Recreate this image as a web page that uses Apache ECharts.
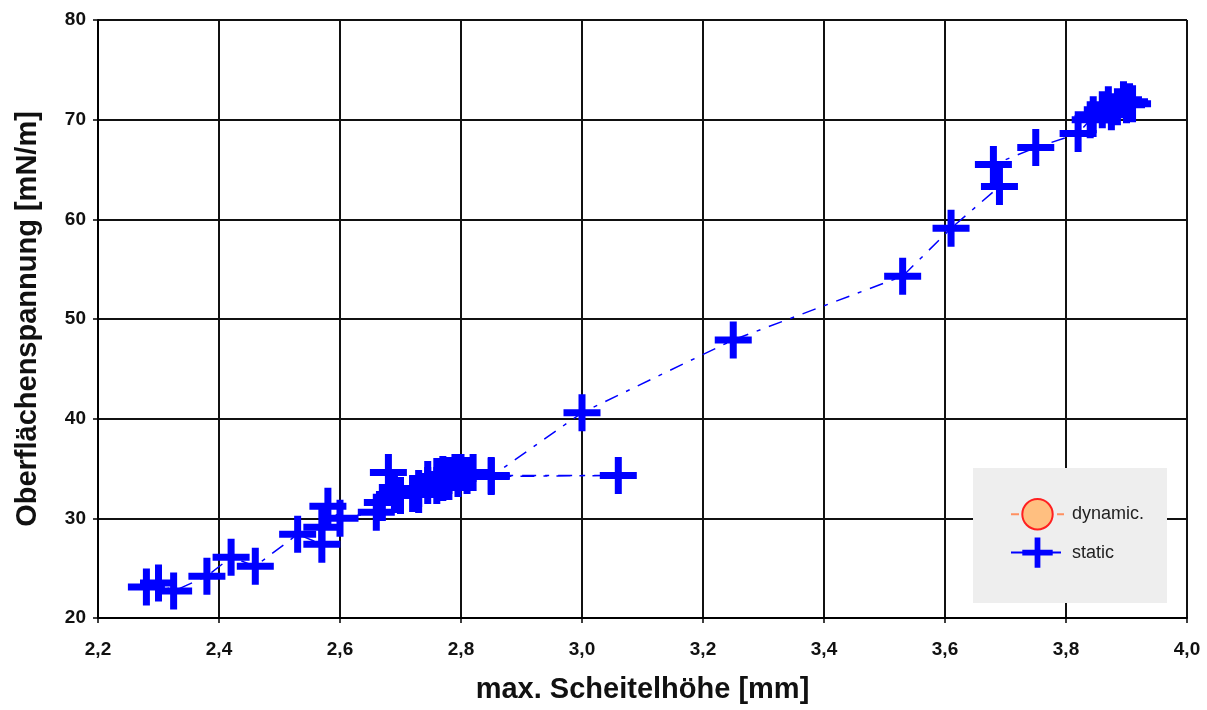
<!DOCTYPE html>
<html>
<head>
<meta charset="utf-8">
<script src="https://cdn.jsdelivr.net/npm/echarts@6/dist/echarts.min.js"></script>
<style>html,body{margin:0;padding:0;background:#fff}#c{width:1207px;height:710px}</style>
</head>
<body>
<div id="c"></div>
<script>
// Data (x = max. Scheitelhöhe [mm], y = Oberflächenspannung [mN/m]) in drawing order
const staticX = [2.28, 2.30, 2.325, 2.38, 2.42, 2.46, 2.53, 2.57, 2.57, 2.58, 2.60, 2.66, 2.67, 2.68, 2.69, 2.70,
  2.72, 2.73, 2.73, 2.745, 2.745, 2.76, 2.76, 2.77, 2.77, 2.78, 2.78, 2.79, 2.795, 2.80, 2.81, 2.82,
  2.85, 3.06, 2.85, 3.00, 3.25, 3.53, 3.61, 3.69, 3.68, 3.75, 3.82, 3.84, 3.845, 3.86, 3.87, 3.875, 3.885, 3.895, 3.90, 3.905, 3.91];
const staticY = [23.1, 23.5, 22.7, 24.2, 26.1, 25.2, 28.4, 27.4, 29.1, 31.2, 30.0, 30.6, 31.6, 34.6, 32.4, 32.3,
  32.5, 32.4, 33.0, 33.3, 33.9, 33.3, 34.2, 33.6, 34.4, 33.7, 34.3, 34.6, 34.0, 34.6, 34.3, 34.6,
  34.3, 34.3, 34.2, 40.6, 47.9, 54.3, 59.1, 63.3, 65.5, 67.2, 68.6, 70.0, 70.5, 71.0, 71.5, 70.8, 71.3, 72.0, 71.5, 71.8, 71.6];
const dynamicX = [];
const dynamicY = [];
const seriesNames = ['dynamic.', 'static'];
const xTicks = {min: 2.2, max: 4.0, interval: 0.2};
const yTicks = {min: 20, max: 80, interval: 10};

const crossPath = 'path://M15,0H22V15H37V22H22V37H15V22H0V15H15Z';
const pairs = (xs, ys) => xs.map((x, i) => [x, ys[i]]);
const fmt = v => v.toFixed(1).replace('.', ',');

const chart = echarts.init(document.getElementById('c'), null, {renderer: 'canvas'});
chart.setOption({
  animation: false,
  backgroundColor: '#ffffff',
  grid: {left: 98, right: 20, top: 20, bottom: 92, containLabel: false},
  graphic: [{
    type: 'rect', z: 3, left: 973, top: 468,
    shape: {width: 194, height: 135},
    style: {fill: '#eeeeee'}
  }],
  legend: {
    orient: 'vertical', left: 1005, top: 493,
    itemWidth: 53, itemHeight: 38, itemGap: 7,
    data: seriesNames,
    textStyle: {fontFamily: 'Arial, Liberation Sans', fontSize: 18, color: '#222', padding: [0, 0, 0, 3]}
  },
  xAxis: {
    type: 'value', min: xTicks.min, max: xTicks.max, interval: xTicks.interval,
    name: 'max. Scheitelhöhe [mm]', nameLocation: 'middle', nameGap: 57,
    nameTextStyle: {fontFamily: 'Arial, Liberation Sans', fontWeight: 'bold', fontSize: 29, color: '#111'},
    axisLine: {show: true, lineStyle: {color: '#000', width: 2}},
    axisTick: {show: true, length: 5, lineStyle: {color: '#000', width: 1.5}},
    axisLabel: {formatter: fmt, margin: 22, fontFamily: 'Arial, Liberation Sans', fontWeight: 'bold', fontSize: 19, color: '#111'},
    splitLine: {show: true, lineStyle: {color: '#111', width: 2}}
  },
  yAxis: {
    type: 'value', min: yTicks.min, max: yTicks.max, interval: yTicks.interval,
    name: 'Oberflächenspannung [mN/m]', nameLocation: 'middle', nameGap: 56, nameRotate: 90,
    nameTextStyle: {fontFamily: 'Arial, Liberation Sans', fontWeight: 'bold', fontSize: 29, color: '#111'},
    axisLine: {show: true, lineStyle: {color: '#000', width: 2}},
    axisTick: {show: true, length: 5, lineStyle: {color: '#000', width: 1.5}},
    axisLabel: {margin: 12, fontFamily: 'Arial, Liberation Sans', fontWeight: 'bold', fontSize: 19, color: '#111'},
    splitLine: {show: true, lineStyle: {color: '#111', width: 2}}
  },
  series: [
    {
      name: seriesNames[0], type: 'line', data: pairs(dynamicX, dynamicY),
      symbol: 'circle', symbolSize: 23,
      itemStyle: {color: '#ffbf80', borderColor: '#ff2020', borderWidth: 2},
      lineStyle: {color: '#ff9060', width: 1.5, type: [8, 6, 3, 6]}
    },
    {
      name: seriesNames[1], type: 'line', data: pairs(staticX, staticY),
      symbol: crossPath, symbolSize: 37, showAllSymbol: true,
      itemStyle: {color: '#0000ff'},
      lineStyle: {color: '#0000ff', width: 1.5, type: [14, 9, 4, 9]}
    }
  ]
});
</script>
</body>
</html>
